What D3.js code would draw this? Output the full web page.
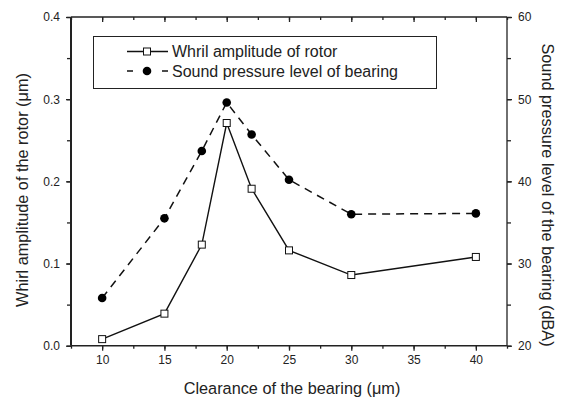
<!DOCTYPE html>
<html><head><meta charset="utf-8">
<script src="https://cdn.jsdelivr.net/npm/d3@7"></script>
<style>body{margin:0;background:#fff}svg text{font-family:Arial,"Liberation Sans",sans-serif;fill:#222}</style>
</head><body>
<script>
const clearance = [10, 15, 18, 20, 22, 25, 30, 40];
const whirl = [0.008, 0.039, 0.123, 0.271, 0.191, 0.116, 0.086, 0.108];
const sound = [25.8, 35.5, 43.7, 49.6, 45.7, 40.2, 36.0, 36.1];
const xTicks = [10, 15, 20, 25, 30, 35, 40];
const yLeftTicks = [0.0, 0.1, 0.2, 0.3, 0.4];
const yRightTicks = [20, 30, 40, 50, 60];
const seriesNames = ["Whril amplitude of rotor", "Sound pressure level of bearing"];

const W = 566, H = 398;
const m = {l: 71, r: 507, t: 17, b: 345.7};
const svg = d3.select("body").append("svg").attr("width", W).attr("height", H);
const x = d3.scaleLinear().domain([7.5, 42.5]).range([m.l, m.r]);
const yL = d3.scaleLinear().domain([0, 0.4]).range([m.b, m.t]);
const yR = d3.scaleLinear().domain([20, 60]).range([m.b, m.t]);
const col = "#222";

function styleAxis(g){
  g.select(".domain").remove();
  g.selectAll("line").attr("stroke", col).attr("stroke-width", 1.3);
  g.selectAll("text").attr("font-size", 12).attr("fill", col);
}
const xMinor = d3.range(7.5, 42.6, 2.5);
// bottom
svg.append("g").attr("transform", `translate(0,${m.b})`)
  .call(d3.axisBottom(x).tickValues(xMinor).tickSize(3).tickFormat(""))
  .call(styleAxis);
svg.append("g").attr("transform", `translate(0,${m.b})`)
  .call(d3.axisBottom(x).tickValues(xTicks).tickSize(5).tickPadding(5).tickFormat(d3.format("d")))
  .call(styleAxis);
// top (inward)
svg.append("g").attr("transform", `translate(0,${m.t})`)
  .call(d3.axisBottom(x).tickValues(xMinor).tickSize(3).tickFormat(""))
  .call(styleAxis);
svg.append("g").attr("transform", `translate(0,${m.t})`)
  .call(d3.axisBottom(x).tickValues(xTicks).tickSize(5).tickFormat(""))
  .call(styleAxis);
// left
svg.append("g").attr("transform", `translate(${m.l},0)`)
  .call(d3.axisLeft(yL).tickValues(d3.range(0, 0.41, 0.05)).tickSize(4).tickFormat(""))
  .call(styleAxis);
svg.append("g").attr("transform", `translate(${m.l},0)`)
  .call(d3.axisLeft(yL).tickValues(yLeftTicks).tickSize(5).tickPadding(6).tickFormat(d3.format(".1f")))
  .call(styleAxis);
// right
svg.append("g").attr("transform", `translate(${m.r},0)`)
  .call(d3.axisRight(yR).tickValues(d3.range(20, 61, 5)).tickSize(4).tickFormat(""))
  .call(styleAxis);
svg.append("g").attr("transform", `translate(${m.r},0)`)
  .call(d3.axisRight(yR).tickValues(yRightTicks).tickSize(5).tickPadding(6).tickFormat(d3.format("d")))
  .call(styleAxis);

// frame
svg.append("line").attr("x1", m.l).attr("x2", m.l).attr("y1", m.t).attr("y2", m.b).attr("stroke", col).attr("stroke-width", 2);
svg.append("line").attr("x1", m.r).attr("x2", m.r).attr("y1", m.t).attr("y2", m.b).attr("stroke", col).attr("stroke-width", 1.3);
svg.append("line").attr("x1", m.l).attr("x2", m.r).attr("y1", m.b).attr("y2", m.b).attr("stroke", col).attr("stroke-width", 1.6);
svg.append("line").attr("x1", m.l).attr("x2", m.r).attr("y1", m.t).attr("y2", m.t).attr("stroke", col).attr("stroke-width", 1.3);

// sound series (dashed, filled circles)
const sData = clearance.map((c, i) => [c, sound[i]]);
svg.append("path").datum(sData)
  .attr("d", d3.line().x(d => x(d[0])).y(d => yR(d[1])))
  .attr("fill", "none").attr("stroke", "#111").attr("stroke-width", 1.5).attr("stroke-dasharray", "8,6");
svg.selectAll(".c").data(sData).join("circle")
  .attr("cx", d => x(d[0])).attr("cy", d => yR(d[1])).attr("r", 4.3).attr("fill", "#000");

// whirl series (solid, open squares)
const wData = clearance.map((c, i) => [c, whirl[i]]);
svg.append("path").datum(wData)
  .attr("d", d3.line().x(d => x(d[0])).y(d => yL(d[1])))
  .attr("fill", "none").attr("stroke", "#111").attr("stroke-width", 1.4);
svg.selectAll(".s").data(wData).join("rect")
  .attr("x", d => x(d[0]) - 3.5).attr("y", d => yL(d[1]) - 3.5).attr("width", 7).attr("height", 7)
  .attr("fill", "#fff").attr("stroke", "#111").attr("stroke-width", 1);

// legend
const lg = svg.append("g");
lg.append("rect").attr("x", 93.5).attr("y", 36.5).attr("width", 343).attr("height", 52)
  .attr("fill", "#fff").attr("stroke", col).attr("stroke-width", 1);
lg.append("line").attr("x1", 127).attr("x2", 168).attr("y1", 51.5).attr("y2", 51.5).attr("stroke", "#111").attr("stroke-width", 1.4);
lg.append("rect").attr("x", 143.5).attr("y", 48).attr("width", 7).attr("height", 7).attr("fill", "#fff").attr("stroke", "#111");
lg.append("line").attr("x1", 127).attr("x2", 168).attr("y1", 71).attr("y2", 71).attr("stroke", "#111").attr("stroke-width", 1.5).attr("stroke-dasharray", "6,11,7,11,7");
lg.append("circle").attr("cx", 147).attr("cy", 71).attr("r", 4.3).attr("fill", "#000");
lg.append("text").attr("x", 172).attr("y", 57).attr("font-size", 16).text(seriesNames[0]);
lg.append("text").attr("x", 172).attr("y", 77).attr("font-size", 16).text(seriesNames[1]);

// axis titles
svg.append("text").attr("x", 292).attr("y", 394).attr("text-anchor", "middle").attr("font-size", 16.3)
  .text("Clearance of the bearing (\u03bcm)");
svg.append("text").attr("transform", `translate(28,190) rotate(-90)`).attr("text-anchor", "middle").attr("font-size", 16.3)
  .text("Whirl amplitude of the rotor (\u03bcm)");
svg.append("text").attr("transform", `translate(542,195) rotate(90)`).attr("text-anchor", "middle").attr("font-size", 16.3)
  .text("Sound pressure level of the bearing (dBA)");
</script>
</body></html>
